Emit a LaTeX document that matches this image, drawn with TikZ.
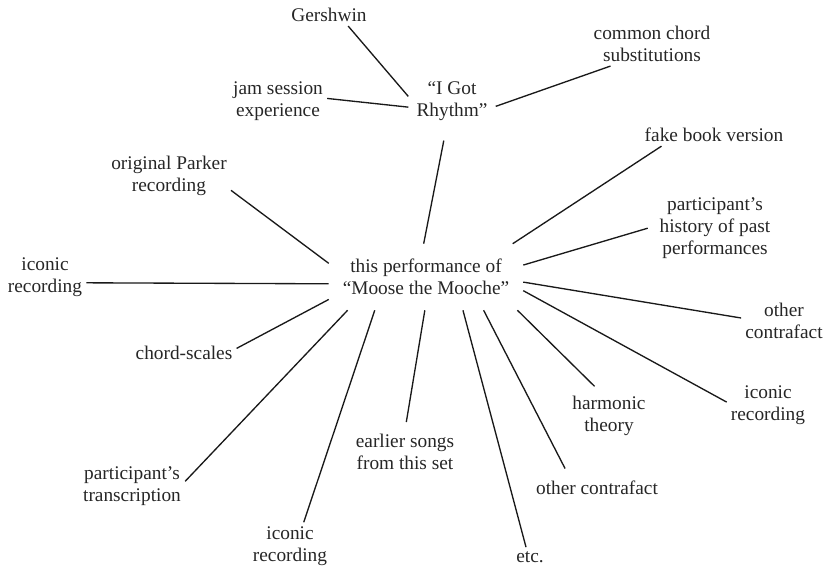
\documentclass[tikz,border=0pt]{standalone}
\usepackage{fontspec}
\setmainfont{Liberation Serif}
\usepackage{tikz}
\tikzset{
  leaf/.style={align=center, inner sep=3pt, text=black!85,
    font=\fontsize{14.5}{16.5}\selectfont},
  hubnode/.style={leaf, inner sep=0pt, minimum width=145.5pt, minimum height=49.5pt},
  spoke/.style={draw=black!90, line width=1pt}
}

\begin{document}
\begin{tikzpicture}[x=0.75pt, y=-0.75pt]
  \useasboundingbox (0,0) rectangle (833,571);

  % the performance in the middle
  \node[hubnode] (mooche) at (426,277) {this performance of\\“Moose the Mooche”};

  % the tune and what hangs off it
  \node[leaf, inner sep=6pt] (rhythm) at (452,101) {“I Got\\Rhythm”};
  \node[leaf] (gershwin) at (329,15) {Gershwin};
  \node[leaf] (jam) at (278,101) {jam session\\experience};
  \node[leaf] (subs) at (652,44) {common chord\\substitutions};

  % everything round the performance
  \node[leaf] (fakebook) at (714,135) {fake book version};
  \node[leaf] (history) at (715,228) {participant’s\\history of past\\performances};
  \node[leaf] (parker) at (169,176) {original Parker\\recording};
  \node[leaf] (iconicw) at (45,277) {iconic\\recording};
  \node[leaf] (scales) at (184,353) {chord-scales};
  \node[leaf] (contrae) at (784,321) {other\\contrafact};
  \node[leaf] (iconice) at (768,405) {iconic\\recording};
  \node[leaf] (theory) at (609,416) {harmonic\\theory};
  \node[leaf] (contras) at (597,488) {other contrafact};
  \node[leaf] (etc) at (530,557) {etc.};
  \node[leaf] (earlier) at (405,452) {earlier songs\\from this set};
  \node[leaf] (iconics) at (290,546) {iconic\\recording};
  \node[leaf] (transcr) at (132,486) {participant’s\\transcription};

  \draw[spoke] (rhythm.174) -- (gershwin.-30);
  \draw[spoke] (rhythm.188) -- (jam.3);
  \draw[spoke] (rhythm.-7) -- (subs.208);
  \draw[spoke, shorten <=9pt] (rhythm.258) -- (mooche.94);

  \draw[spoke] (mooche.21.5) -- (fakebook.192);
  \draw[spoke, shorten >=6pt] (mooche.7) -- (history.178);
  \draw[spoke] (mooche.172.5) -- (parker.-13);
  \draw[spoke] (mooche.184.7) -- (iconicw.-8.5);
  \draw[spoke] (mooche.193) -- (scales.5);
  \draw[spoke] (mooche.357) -- (contrae.176);
  \draw[spoke] (mooche.352) -- (iconice.176);
  \draw[spoke, shorten >=6pt] (mooche.340) -- (theory.110);
  \draw[spoke, shorten >=7pt] (mooche.330) -- (contras.158);
  \draw[spoke] (mooche.318) -- (etc.112);
  \draw[spoke, shorten >=6pt] (mooche.268) -- (earlier.90);
  \draw[spoke] (mooche.213) -- (iconics.60);
  \draw[spoke] (mooche.203.6) -- (transcr.5.6);
\end{tikzpicture}
\end{document}
